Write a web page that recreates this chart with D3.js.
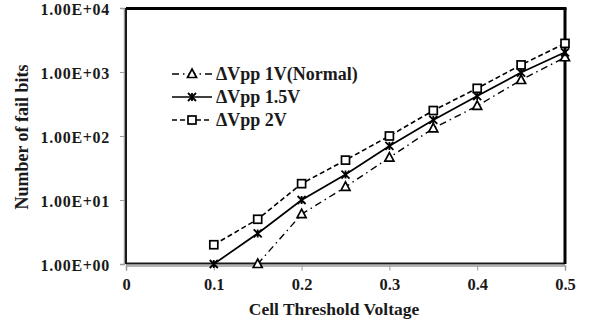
<!DOCTYPE html>
<html>
<head>
<meta charset="utf-8">
<script src="https://cdn.jsdelivr.net/npm/d3@7"></script>
<style>
    body { margin: 0; background: #fff; }
    svg text { font-family: "Times New Roman", "Liberation Serif", Tinos, serif; font-weight: 700; fill: #1a1a1a; }
</style>
</head>
<body>
<svg id="chart" width="593" height="327"></svg>
<script>
// values
const voltage = [0.1, 0.15, 0.2, 0.25, 0.3, 0.35, 0.4, 0.45, 0.5];
const vpp1 = [null, 1, 6, 16, 46, 132, 295, 750, 1700];
const vpp15 = [1, 3, 10, 25, 70, 178, 420, 980, 2030];
const vpp2 = [2, 5, 18, 42, 100, 250, 556, 1290, 2800];
const seriesNames = ["\u0394Vpp 1V(Normal)", "\u0394Vpp 1.5V", "\u0394Vpp 2V"];
const xTicks = [0, 0.1, 0.2, 0.3, 0.4, 0.5];
const yTicks = [1, 10, 100, 1000, 10000];

const svg = d3.select("#chart");
const plotL = 126, plotR = 565, plotT = 8, plotB = 264;

const x = d3.scaleLinear().domain([0, 0.5]).range([plotL, plotR]);
const y = d3.scaleLog().domain([1, 10000]).range([plotB, plotT]);

function sciLabel(d) {
    const exp = Math.round(Math.log10(d));
    return "1.00E+" + String(exp).padStart(2, "0");
}

// gray axes with outside ticks
const yAxis = svg.append("g")
    .attr("transform", "translate(" + (plotL - 2) + ",0)")
    .call(d3.axisLeft(y).tickValues(yTicks).tickFormat(sciLabel).tickSize(4).tickPadding(10));
const xAxis = svg.append("g")
    .attr("transform", "translate(0," + (plotB + 1.5) + ")")
    .call(d3.axisBottom(x).tickValues(xTicks).tickFormat(d => d === 0 ? "0" : d3.format(".1f")(d)).tickSize(5).tickPadding(8));

[yAxis, xAxis].forEach(a => {
    a.attr("font-family", null).attr("font-size", null);
    a.selectAll("path.domain").attr("stroke", "#9a9a9a").attr("stroke-width", 1.5);
    a.selectAll(".tick line").attr("stroke", "#9a9a9a").attr("stroke-width", 1);
    a.selectAll("text").attr("fill", "#1a1a1a");
});
yAxis.selectAll("text")
    .style("font-size", "16px")
    .style("letter-spacing", "0.7px")
    .attr("dy", "0.39em");
xAxis.selectAll("text").style("font-size", "16.5px");

// plot frame: thin bottom/left, heavy top/right
svg.append("line").attr("x1", plotL).attr("x2", plotR).attr("y1", plotB - 0.5).attr("y2", plotB - 0.5)
    .attr("stroke", "#1a1a1a").attr("stroke-width", 2);
svg.append("line").attr("x1", plotL).attr("x2", plotL).attr("y1", plotT).attr("y2", plotB)
    .attr("stroke", "#1a1a1a").attr("stroke-width", 2);
svg.append("line").attr("x1", plotL).attr("x2", plotR + 1.5).attr("y1", plotT + 0.5).attr("y2", plotT + 0.5)
    .attr("stroke", "#000").attr("stroke-width", 3);
svg.append("line").attr("x1", plotR).attr("x2", plotR).attr("y1", plotT).attr("y2", plotB)
    .attr("stroke", "#000").attr("stroke-width", 3);

const series = [
    { name: seriesNames[0], values: vpp1, dash: "7,4,1.5,4", width: 1.4, marker: "triangle" },
    { name: seriesNames[1], values: vpp15, dash: null, width: 1.7, marker: "star" },
    { name: seriesNames[2], values: vpp2, dash: "5,3", width: 1.6, marker: "square" }
];

function drawMarker(g, type, cx, cy) {
    if (type === "triangle") {
        g.append("path")
            .attr("d", "M" + cx + "," + (cy - 5) + " L" + (cx + 4.5) + "," + (cy + 3.5) + " L" + (cx - 4.5) + "," + (cy + 3.5) + "Z")
            .attr("fill", "#fff").attr("stroke", "#000").attr("stroke-width", 1.7);
    } else if (type === "square") {
        g.append("rect").attr("x", cx - 4).attr("y", cy - 4).attr("width", 8).attr("height", 8)
            .attr("fill", "#fff").attr("stroke", "#000").attr("stroke-width", 1.7);
    } else {
        g.append("path")
            .attr("d", "M" + (cx - 4) + "," + (cy - 4) + " L" + (cx + 4) + "," + (cy + 4)
                + " M" + (cx + 4) + "," + (cy - 4) + " L" + (cx - 4) + "," + (cy + 4)
                + " M" + cx + "," + (cy - 4) + " L" + cx + "," + (cy + 4))
            .attr("stroke", "#000").attr("stroke-width", 1.8);
    }
}

const line = d3.line()
    .defined(d => d.v != null)
    .x(d => x(d.x))
    .y(d => y(d.v));

series.forEach(s => {
    const pts = voltage.map((v, i) => ({ x: v, v: s.values[i] }));
    svg.append("path")
        .datum(pts)
        .attr("d", line)
        .attr("fill", "none")
        .attr("stroke", "#000")
        .attr("stroke-width", s.width)
        .attr("stroke-dasharray", s.dash);
    const g = svg.append("g");
    pts.filter(p => p.v != null).forEach(p => drawMarker(g, s.marker, x(p.x), y(p.v)));
});

// legend
const legendY = [74, 97, 120];
series.forEach((s, i) => {
    const ly = legendY[i];
    svg.append("line").attr("x1", 172).attr("x2", 212).attr("y1", ly).attr("y2", ly)
        .attr("stroke", "#000").attr("stroke-width", s.width).attr("stroke-dasharray", s.dash);
    drawMarker(svg.append("g"), s.marker, 192, ly);
    svg.append("text").attr("x", 216).attr("y", ly + 6).style("font-size", "18px").text(s.name);
});

// axis titles
svg.append("text")
    .attr("x", 334).attr("y", 315)
    .attr("text-anchor", "middle").style("font-size", "17.5px")
    .text("Cell Threshold Voltage");
svg.append("text")
    .attr("transform", "translate(28,137) rotate(-90)")
    .attr("text-anchor", "middle").style("font-size", "18px")
    .text("Number of fail bits");
</script>
</body>
</html>
